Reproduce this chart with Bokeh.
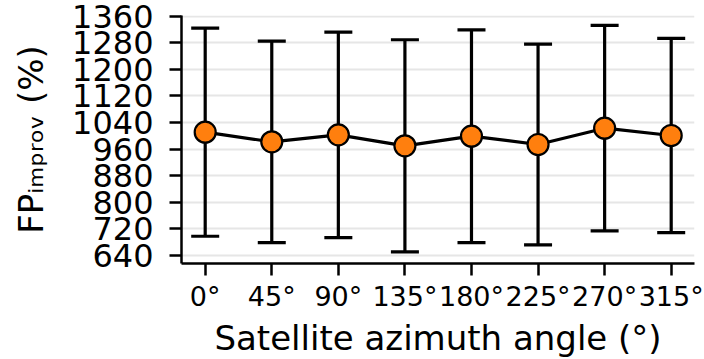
from bokeh.plotting import figure
from bokeh.models import ColumnDataSource, Range1d, FixedTicker
from bokeh.embed import file_html
from bokeh.resources import INLINE

angles = ["0°", "45°", "90°", "135°", "180°", "225°", "270°", "315°"]
mean_vals = [1011, 982, 1003, 970, 999, 974, 1023, 1001]
std_vals = [313, 303, 309, 319, 320, 302, 309, 292]
y_ticks = [640, 720, 800, 880, 960, 1040, 1120, 1200, 1280, 1360]
x_label = "Satellite azimuth angle (°)"
y_label = "FP\u1d62\u2098\u209a\u1d63\u2092\u1d65 (%)"  # FP with subscript "improv"

xs = list(range(len(angles)))
upper = [m + s for m, s in zip(mean_vals, std_vals)]
lower = [m - s for m, s in zip(mean_vals, std_vals)]
src = ColumnDataSource(dict(x=xs, mean=mean_vals, upper=upper, lower=lower))

FONT = "DejaVu Sans"
W, H = 704, 359
FL, FR, FT, FB = 181, 694, 15, 264  # frame edges in canvas px

p = figure(width=W, height=H, output_backend="svg", toolbar_location=None,
           x_range=Range1d(-0.356, 7.35), y_range=Range1d(616, 1362),
           min_border_left=FL, min_border_right=W - FR, min_border_top=FT,
           min_border_bottom=H - FB, title=x_label, title_location="below")
p.outline_line_color = None
p.background_fill_color = "white"
p.border_fill_color = "white"
p.title.text_font = FONT
p.title.text_font_size = "34px"
p.title.text_font_style = "normal"
p.title.text_color = "black"
p.title.align = "center"
p.title.standoff = 3
p.title.offset = 0

p.xgrid.grid_line_color = None
p.ygrid.grid_line_color = "#e6e6e6"
p.ygrid.grid_line_width = 2

for ax in (p.xaxis, p.yaxis):
    ax.axis_line_width = 2.5
    ax.major_tick_line_width = 2.5
    ax.major_tick_out = 12
    ax.major_tick_in = 0
    ax.minor_tick_line_color = None
    ax.major_label_text_font = FONT
    ax.major_label_text_color = "black"
    ax.axis_line_color = "black"
    ax.major_tick_line_color = "black"

p.xaxis.ticker = FixedTicker(ticks=xs)
p.xaxis.major_label_overrides = {i: a for i, a in enumerate(angles)}
p.xaxis.major_label_text_font_size = "27px"
p.xaxis.major_label_standoff = 5

p.yaxis.ticker = FixedTicker(ticks=y_ticks)
p.yaxis.major_label_text_font_size = "32px"
p.yaxis.major_label_standoff = 16
p.yaxis.axis_label = y_label
p.yaxis.axis_label_text_font = FONT
p.yaxis.axis_label_text_font_size = "34px"
p.yaxis.axis_label_text_font_style = "normal"
p.yaxis.axis_label_text_color = "black"
p.yaxis.axis_label_standoff = 18

# error bars
p.segment(x0="x", y0="lower", x1="x", y1="upper", source=src, line_color="black", line_width=3.2)
p.scatter(x="x", y="upper", source=src, marker="dash", size=28, line_color="black", line_width=3.2)
p.scatter(x="x", y="lower", source=src, marker="dash", size=28, line_color="black", line_width=3.2)
p.line(x="x", y="mean", source=src, line_color="black", line_width=3.2)
p.scatter(x="x", y="mean", source=src, size=21, fill_color="#ff7f0e", line_color="black", line_width=2.2)

open("out.html", "w").write(file_html(p, INLINE))
